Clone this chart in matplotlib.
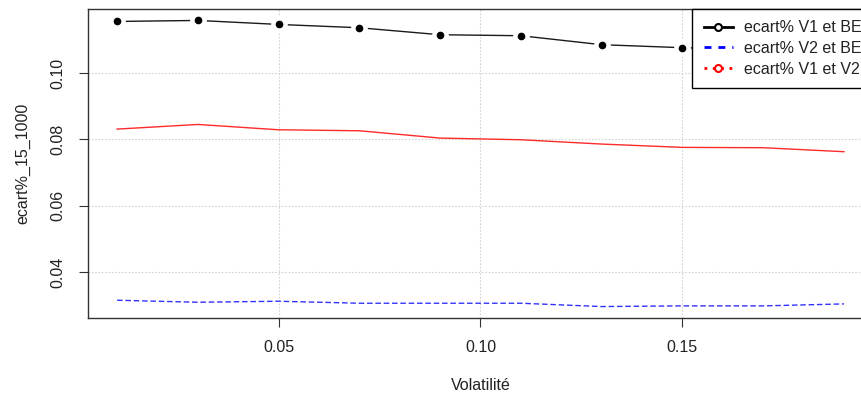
"""Ecart% curves vs volatility, redrawn from an R base-graphics plot."""

import matplotlib

matplotlib.use("Agg")

import matplotlib.pyplot as plt  # noqa: E402
from matplotlib.lines import Line2D  # noqa: E402

plt.rcParams["font.family"] = ["Liberation Sans", "DejaVu Sans"]

# -- data -----------------------------------------------------------------
volatilite = [0.01, 0.03, 0.05, 0.07, 0.09, 0.11, 0.13, 0.15, 0.17, 0.19]
ecart_v1_be = [0.1155, 0.1158, 0.1146, 0.1136, 0.1115, 0.1112, 0.1085, 0.1076, 0.1070, 0.1065]
ecart_v2_be = [0.0316, 0.0310, 0.0313, 0.0307, 0.0307, 0.0307, 0.0297, 0.0299, 0.0299, 0.0305]
ecart_v1_v2 = [0.0831, 0.0845, 0.0829, 0.0826, 0.0804, 0.0799, 0.0786, 0.0776, 0.0775, 0.0763]

labels = ["ecart% V1 et BE", "ecart% V2 et BE", "ecart% V1 et V2"]
x_ticks = [0.05, 0.10, 0.15]
y_ticks = [0.04, 0.06, 0.08, 0.10]

TEXT = "#222222"
AXIS = "#333333"
FS = 11.5

fig = plt.figure(figsize=(8.61, 4.03), dpi=100)
# the original is cropped on the right, so the plot region runs past the figure
ax = fig.add_axes([88 / 861, 85 / 403, 785 / 861, 309 / 403])

# R type="b": line with gaps round the points
ax.plot(volatilite, ecart_v1_be, color="#1a1a1a", lw=1, zorder=3)
ax.plot(volatilite, ecart_v1_be, ls="none", marker="o", ms=11, mfc="white", mec="white", zorder=4)
ax.plot(volatilite, ecart_v1_be, ls="none", marker="o", ms=4.5, mfc="black", mec="black", zorder=5)

ax.plot(volatilite, ecart_v2_be, color="#3333ff", lw=1, dashes=(4, 2), zorder=3)
ax.plot(volatilite, ecart_v1_v2, color="#ff2a2a", lw=1, zorder=3)

ax.margins(x=0.04, y=0.04)

ax.set_xticks(x_ticks)
ax.set_yticks(y_ticks)
ax.set_xticklabels([f"{v:.2f}" for v in x_ticks])
ax.set_yticklabels([f"{v:.2f}" for v in y_ticks])
ax.tick_params(axis="both", length=6.5, width=0.8, color=AXIS, labelcolor=TEXT, labelsize=FS)
ax.tick_params(axis="x", pad=9)
ax.tick_params(axis="y", pad=10)
for lab in ax.get_yticklabels():
    lab.set_rotation(90)
    lab.set_va("center")

for spine in ax.spines.values():
    spine.set_color(AXIS)
    spine.set_linewidth(1)

ax.grid(True, color="#d3d3d3", lw=0.8, ls=(0, (1.5, 1.5)), zorder=1)
ax.set_axisbelow(True)

ax.set_xlabel("Volatilité", fontsize=FS, color=TEXT, labelpad=17)
ax.set_ylabel("ecart%_15_1000", fontsize=FS, color=TEXT, labelpad=14)

handles = [
    Line2D([], [], color="black", lw=2, marker="o", ms=5, mfc="white", mec="black", mew=1.5),
    Line2D([], [], color="blue", lw=2, dashes=(2.5, 2.5)),
    Line2D([], [], color="red", lw=2, ls=(0, (1, 2)), marker="o", ms=5, mfc="white", mec="red", mew=1.5),
]
leg = ax.legend(handles, labels, loc="upper right", bbox_to_anchor=(1, 1), borderaxespad=0,
                fontsize=FS, frameon=True, fancybox=False, edgecolor="black", framealpha=1,
                borderpad=0.72, handlelength=1.8, handletextpad=0.7, labelspacing=0.35,
                labelcolor=TEXT)
leg.get_frame().set_linewidth(1)
leg.set_zorder(10)

fig.savefig("out.png", dpi=100, facecolor="white")
